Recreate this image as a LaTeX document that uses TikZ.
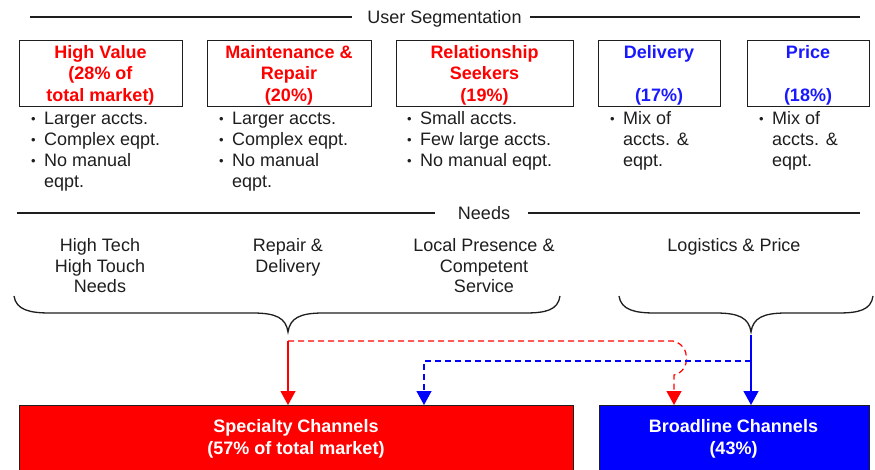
\documentclass[tikz,border=0pt]{standalone}
\usepackage{fontspec}
\setmainfont{Liberation Sans}
\usetikzlibrary{arrows.meta}
\definecolor{segred}{RGB}{255,0,0}
\definecolor{segblue}{RGB}{0,0,255}
\definecolor{ttlblue}{RGB}{25,25,255}
\definecolor{inkgray}{RGB}{30,30,30}
\newcommand{\bul}{\makebox[13pt][l]{\fontsize{13}{13}\selectfont\raisebox{1pt}{•}}}
\newcommand{\nob}{\hspace*{13pt}}
\begin{document}
\begin{tikzpicture}[x=1pt,y=-1pt,
  segbox/.style={draw=inkgray, line width=1.4pt, minimum height=66pt, inner sep=0pt, anchor=north west},
  ttl/.style={anchor=base, align=center, inner sep=0pt, font=\fontsize{18}{21.5}\selectfont\bfseries},
  bullets/.style={anchor=base west, align=left, inner sep=0pt, text=inkgray, font=\fontsize{18}{21}\selectfont},
  hdr/.style={anchor=base, inner sep=0pt, text=inkgray, font=\fontsize{18}{21}\selectfont},
  needtxt/.style={anchor=base, align=center, inner sep=0pt, text=inkgray, font=\fontsize{18}{20.7}\selectfont},
  rule/.style={draw=inkgray, line width=1.2pt},
  bracepath/.style={draw=inkgray, line width=1.3pt},
  chan/.style={draw=inkgray, line width=0.8pt, minimum height=70pt, inner sep=0pt, anchor=north west},
  chantxt/.style={anchor=base, align=center, inner sep=0pt, text=white, font=\fontsize{18}{22}\selectfont\bfseries},
  tipstyle/.style={-{Triangle[width=15pt,length=14pt]}},
  redline/.style={draw=segred, line width=1.2pt, tipstyle},
  blueline/.style={draw=segblue, line width=1.2pt, tipstyle},
  dashes/.style={dash pattern=on 6pt off 4pt}
]
\useasboundingbox (0,0) rectangle (875,469);
\clip (0,0) rectangle (875,469);

% header: User Segmentation
\node[hdr] (hseg) at (444.5,23.5) {User Segmentation};
\coordinate (hsegL) at (30,17);
\coordinate (hsegR) at (860,17);
\draw[rule] (hsegL) -- (352,17);
\draw[rule] (530,17) -- (hsegR);

% segment boxes
\node[segbox, minimum width=163pt] (b1) at (19,40) {};
\node[segbox, minimum width=164pt] (b2) at (207,40) {};
\node[segbox, minimum width=177pt] (b3) at (396,40) {};
\node[segbox, minimum width=122pt] (b4) at (598,40) {};
\node[segbox, minimum width=122pt] (b5) at (747,40) {};

% titles (anchor = baseline of last line)
\node[ttl, text=segred] (t1) at (100.5,101) {High Value\\(28\% of\\total market)};
\node[ttl, text=segred] (t2) at (289,101) {Maintenance \&\\Repair\\(20\%)};
\node[ttl, text=segred] (t3) at (484.5,101) {Relationship\\Seekers\\(19\%)};
\node[ttl, text=ttlblue] (t4) at (659,101) {Delivery\\\mbox{}\\(17\%)};
\node[ttl, text=ttlblue] (t5) at (808,101) {Price\\\mbox{}\\(18\%)};

% bullet lists (anchor = baseline of last line)
\node[bullets] (l1) at (31,187) {\bul Larger accts.\\\bul Complex eqpt.\\\bul No manual\\\nob eqpt.};
\node[bullets] (l2) at (219,187) {\bul Larger accts.\\\bul Complex eqpt.\\\bul No manual\\\nob eqpt.};
\node[bullets] (l3) at (407,166) {\bul Small accts.\\\bul Few large accts.\\\bul No manual eqpt.};
\node[bullets] (l4) at (610,166) {\bul Mix of\\\nob accts. \&\\\nob eqpt.};
\node[bullets] (l5) at (759,166) {\bul Mix of\\\nob accts. \&\\\nob eqpt.};

% header: Needs
\node[hdr] (hneeds) at (484,219.5) {Needs};
\draw[rule] (17,213) -- (435,213);
\draw[rule] (528,213) -- (860,213);

\node[needtxt] (n1) at (100,292.9) {High Tech\\High Touch\\Needs};
\node[needtxt] (n2) at (288,272.2) {Repair \&\\Delivery};
\node[needtxt] (n3) at (484,292.9) {Local Presence \&\\Competent\\Service};
\node[needtxt] (n4) at (734,251.5) {Logistics \& Price};

% braces
\coordinate (tipL) at (288,332);
\coordinate (tipR) at (751,332);
\draw[bracepath] (14,296) .. controls (16,310) and (30,313) .. (50,313) -- (253,313)
  .. controls (276,313) and (286,318) .. (tipL)
  .. controls (290,318) and (300,313) .. (323,313) -- (525,313)
  .. controls (546,313) and (558,310) .. (560,296);
\draw[bracepath] (619,296) .. controls (621,310) and (635,313) .. (655,313) -- (716,313)
  .. controls (739,313) and (749,318) .. (tipR)
  .. controls (753,318) and (763,313) .. (786,313) -- (838,313)
  .. controls (859,313) and (871,310) .. (873,296);

% channel boxes
\node[chan, fill=segred, minimum width=554pt] (spec) at (19,405) {};
\node[chan, fill=segblue, minimum width=270pt] (broad) at (599,405) {};
\node[chantxt] (spectxt) at (296,454) {Specialty Channels\\(57\% of total market)};
\node[chantxt] (broadtxt) at (733.5,454) {Broadline Channels\\(43\%)};

% connectors
\coordinate (rs) at (288,341);
\coordinate (bs) at (751,335);
\coordinate (rturn) at (673,341);
\coordinate (rdown) at (674,375);
\coordinate (bturn) at (751,361);
\coordinate (bcorner) at (424,361);

\draw[redline] (rs) -- (rs |- spec.north);
\draw[blueline] (bs) -- (bs |- broad.north);
\draw[redline, dashes] (rs) -- (rturn) .. controls (691,345) and (691,371) .. (rdown) -- (rdown |- broad.north);
\draw[blueline, dashes] (bturn) -- (bcorner) -- (bcorner |- spec.north);
\end{tikzpicture}
\end{document}
